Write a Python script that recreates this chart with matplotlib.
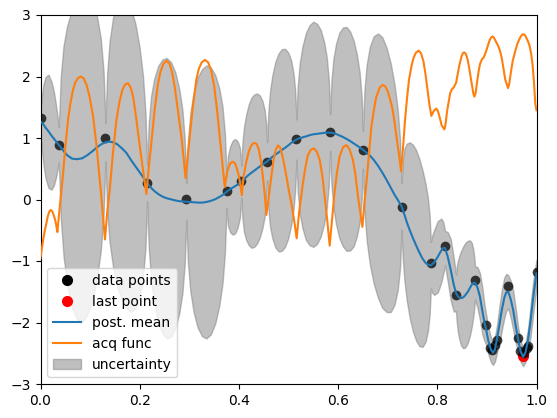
import matplotlib
matplotlib.use('Agg')
import matplotlib.pyplot as plt
import numpy as np

# observed samples
pts_x = [0.000, 0.037, 0.131, 0.215, 0.294, 0.375, 0.405, 0.457, 0.516, 0.584,
         0.650, 0.728, 0.787, 0.8155, 0.8377, 0.876, 0.898, 0.906, 0.910, 0.916,
         0.920, 0.943, 0.962, 0.967, 0.974, 0.980, 0.983, 1.000]
pts_y = [1.33, 0.886, 1.005, 0.273, 0.008, 0.138, 0.30, 0.615, 0.99, 1.10,
         0.805, -0.12, -1.04, -0.756, -1.553, -1.31, -2.04, -2.42, -2.45, -2.36,
         -2.285, -1.407, -2.25, -2.46, -2.50, -2.42, -2.38, -1.18]
last_x = [0.973]
last_y = [-2.545]

# posterior mean and half width of the uncertainty band
gp_x = [0.000, 0.003, 0.006, 0.010, 0.016, 0.022, 0.027, 0.031, 0.034, 0.037,
        0.0408, 0.0464, 0.0539, 0.0633, 0.0737, 0.084, 0.0943, 0.1047, 0.1141, 0.1216, 0.1272, 0.131,
        0.1344, 0.1394, 0.1461, 0.1545, 0.1638, 0.173, 0.1822, 0.1915, 0.1999, 0.2066, 0.2116, 0.215,
        0.2182, 0.2229, 0.2292, 0.2371, 0.2458, 0.2545, 0.2632, 0.2719, 0.2798, 0.2861, 0.2908, 0.294,
        0.2972, 0.3021, 0.3086, 0.3167, 0.3256, 0.3345, 0.3434, 0.3523, 0.3604, 0.3669, 0.3718, 0.375,
        0.378, 0.3825, 0.387, 0.390, 0.393, 0.3975, 0.402, 0.405,
        0.4071, 0.4102, 0.4144, 0.4196, 0.4253, 0.431, 0.4367, 0.4424, 0.4476, 0.4518, 0.4549, 0.457,
        0.4594, 0.4629, 0.4676, 0.4735, 0.480, 0.4865, 0.493, 0.4995, 0.5054, 0.5101, 0.5136, 0.516,
        0.5187, 0.5228, 0.5282, 0.535, 0.5425, 0.550, 0.5575, 0.565, 0.5718, 0.5772, 0.5813, 0.584,
        0.5866, 0.5906, 0.5959, 0.6025, 0.6097, 0.617, 0.6243, 0.6315, 0.6381, 0.6434, 0.6474, 0.650,
        0.6531, 0.6578, 0.664, 0.6718, 0.6804, 0.689, 0.6976, 0.7062, 0.714, 0.7202, 0.7249, 0.728,
        0.7304, 0.7339, 0.7386, 0.7445, 0.751, 0.7575, 0.764, 0.7705, 0.7764, 0.7811, 0.7846, 0.787,
        0.790, 0.794, 0.801, 0.808, 0.812, 0.8155, 0.821, 0.827, 0.833, 0.8377,
        0.8392, 0.8415, 0.8445, 0.848, 0.8525, 0.857, 0.8615, 0.866, 0.8695, 0.8725, 0.8745, 0.876,
        0.881, 0.886, 0.891, 0.895, 0.898, 0.903, 0.908, 0.912, 0.916, 0.920,
        0.925, 0.930, 0.935, 0.939, 0.943, 0.948, 0.953, 0.958, 0.963, 0.968,
        0.973, 0.978, 0.983, 0.988, 0.9935, 1.000]
gp_mean = [1.27, 1.245, 1.22, 1.17, 1.11, 1.04, 0.99, 0.95, 0.92, 0.89,
           0.85, 0.79, 0.72, 0.665, 0.655, 0.67, 0.72, 0.785, 0.85, 0.893, 0.918, 0.93,
           0.937, 0.94, 0.93, 0.90, 0.835, 0.76, 0.645, 0.54, 0.445, 0.37, 0.31, 0.27,
           0.235, 0.19, 0.14, 0.09, 0.048, 0.02, 0.002, -0.015, -0.027, -0.031, -0.034, -0.036,
           -0.038, -0.042, -0.047, -0.05, -0.051, -0.04, -0.022, 0.005, 0.04, 0.072, 0.10, 0.125,
           0.143, 0.168, 0.19, 0.205, 0.22, 0.245, 0.27, 0.29,
           0.305, 0.325, 0.36, 0.40, 0.435, 0.47, 0.505, 0.54, 0.57, 0.59, 0.607, 0.62,
           0.637, 0.66, 0.695, 0.73, 0.765, 0.805, 0.84, 0.88, 0.92, 0.945, 0.962, 0.975,
           0.985, 0.998, 1.01, 1.025, 1.046, 1.06, 1.068, 1.077, 1.083, 1.086, 1.087, 1.087,
           1.085, 1.078, 1.065, 1.042, 1.017, 0.985, 0.95, 0.912, 0.877, 0.847, 0.825, 0.81,
           0.79, 0.76, 0.715, 0.645, 0.55, 0.44, 0.32, 0.19, 0.075, -0.005, -0.07, -0.11,
           -0.17, -0.25, -0.37, -0.50, -0.63, -0.75, -0.865, -0.965, -1.03, -1.06, -1.068, -1.07,
           -1.05, -1.02, -0.93, -0.83, -0.785, -0.79, -0.93, -1.14, -1.38, -1.52,
           -1.545, -1.575, -1.595, -1.605, -1.59, -1.55, -1.50, -1.435, -1.385, -1.36, -1.355, -1.355,
           -1.43, -1.58, -1.82, -2.00, -2.10, -2.30, -2.44, -2.49, -2.44, -2.28,
           -2.05, -1.80, -1.60, -1.51, -1.50, -1.62, -1.80, -2.05, -2.28, -2.47,
           -2.56, -2.48, -2.28, -1.98, -1.58, -1.20]
gp_half = [0.19, 0.45, 0.65, 0.82, 0.92, 0.88, 0.76, 0.60, 0.45, 0.29,
           1.14, 1.71, 2.11, 2.42, 2.60, 2.66, 2.60, 2.425, 2.12, 1.72, 1.16, 0.31,
           1.11, 1.64, 2.02, 2.31, 2.47, 2.53, 2.47, 2.31, 2.02, 1.64, 1.10, 0.30,
           1.01, 1.49, 1.82, 2.08, 2.23, 2.28, 2.23, 2.08, 1.82, 1.49, 1.01, 0.30,
           0.99, 1.45, 1.78, 2.03, 2.17, 2.22, 2.17, 2.02, 1.77, 1.44, 0.97, 0.26,
           0.57, 0.70, 0.76, 0.77, 0.76, 0.70, 0.57, 0.26,
           0.61, 0.85, 1.01, 1.14, 1.22, 1.24, 1.22, 1.15, 1.03, 0.87, 0.64, 0.31,
           0.79, 1.11, 1.33, 1.51, 1.61, 1.64, 1.61, 1.51, 1.34, 1.11, 0.80, 0.325,
           0.87, 1.23, 1.48, 1.68, 1.79, 1.83, 1.79, 1.68, 1.48, 1.22, 0.85, 0.30,
           0.85, 1.21, 1.47, 1.67, 1.78, 1.82, 1.78, 1.67, 1.47, 1.22, 0.85, 0.31,
           0.99, 1.44, 1.77, 2.01, 2.15, 2.20, 2.15, 2.02, 1.78, 1.47, 1.04, 0.38,
           0.80, 1.08, 1.28, 1.43, 1.52, 1.55, 1.52, 1.43, 1.28, 1.08, 0.80, 0.38,
           0.47, 0.53, 0.58, 0.52, 0.42, 0.28, 0.40, 0.50, 0.44, 0.30,
           0.45, 0.58, 0.68, 0.77, 0.83, 0.85, 0.83, 0.77, 0.68, 0.55, 0.42, 0.27,
           0.33, 0.38, 0.38, 0.30, 0.25, 0.22, 0.20, 0.20, 0.20, 0.22,
           0.30, 0.33, 0.33, 0.30, 0.27, 0.30, 0.32, 0.28, 0.20, 0.17,
           0.15, 0.16, 0.18, 0.25, 0.27, 0.22]

# acquisition function
acq_x = [0.000, 0.003, 0.006, 0.009, 0.0118, 0.0145, 0.0175, 0.0205, 0.0235, 0.0265, 0.0295, 0.032, 0.034,
         0.039, 0.045, 0.050, 0.0555, 0.060, 0.0655, 0.070, 0.075, 0.081, 0.087, 0.093, 0.099, 0.106, 0.1125, 0.118, 0.1226, 0.126, 0.130,
         0.1345, 0.1395, 0.146, 0.153, 0.159, 0.165, 0.1705, 0.1764, 0.182, 0.187, 0.192, 0.197, 0.203, 0.208, 0.2135,
         0.218, 0.2234, 0.230, 0.237, 0.242, 0.248, 0.254, 0.260, 0.265, 0.2706, 0.277, 0.284, 0.288, 0.2925,
         0.2965, 0.3008, 0.307, 0.314, 0.319, 0.325, 0.3315, 0.338, 0.344, 0.350, 0.356, 0.361, 0.366, 0.3715,
         0.3755, 0.3794, 0.383, 0.3875, 0.392, 0.396, 0.400, 0.403, 0.4058,
         0.4095, 0.415, 0.420, 0.425, 0.430, 0.435, 0.440, 0.4445, 0.449, 0.4525, 0.4553,
         0.4595, 0.4653, 0.470, 0.4745, 0.479, 0.4835, 0.488, 0.4923, 0.497, 0.501, 0.5057, 0.511, 0.5165,
         0.5215, 0.529, 0.534, 0.539, 0.545, 0.551, 0.557, 0.563, 0.568, 0.573, 0.578, 0.583,
         0.588, 0.593, 0.598, 0.603, 0.610, 0.6166, 0.623, 0.630, 0.635, 0.640, 0.6445, 0.649,
         0.653, 0.657, 0.662, 0.667, 0.672, 0.677, 0.684, 0.690, 0.695, 0.700, 0.705, 0.709, 0.714, 0.718, 0.723, 0.727,
         0.731, 0.735, 0.739, 0.743, 0.748, 0.752, 0.757, 0.7625, 0.767, 0.772, 0.776, 0.780, 0.784, 0.788,
         0.793, 0.798, 0.801, 0.804, 0.809, 0.8145, 0.817, 0.820, 0.826, 0.830, 0.833, 0.838, 0.842, 0.845,
         0.849, 0.852, 0.855, 0.858, 0.861, 0.864, 0.867, 0.870, 0.8725, 0.8746, 0.877, 0.880, 0.883, 0.886,
         0.890, 0.8935, 0.897, 0.900, 0.903, 0.906, 0.909, 0.912, 0.915, 0.918, 0.922, 0.926, 0.930, 0.933,
         0.937, 0.9425, 0.945, 0.948, 0.952, 0.957, 0.961, 0.965, 0.969, 0.973, 0.977, 0.980, 0.983, 0.986,
         0.989, 0.992, 0.995, 0.9976, 1.000]
acq_y = [-0.95, -0.78, -0.62, -0.49, -0.39, -0.28, -0.20, -0.17, -0.19, -0.25, -0.33, -0.43, -0.53,
         -0.10, 0.37, 0.85, 1.29, 1.55, 1.78, 1.90, 1.97, 2.00, 1.97, 1.86, 1.67, 1.35, 0.91, 0.45, 0.05, -0.28, -0.65,
         -0.20, 0.15, 0.75, 1.29, 1.58, 1.78, 1.87, 1.89, 1.82, 1.66, 1.38, 1.06, 0.70, 0.40, 0.09,
         0.50, 0.91, 1.45, 1.89, 2.08, 2.21, 2.255, 2.21, 2.08, 1.83, 1.45, 1.02, 0.72, 0.345,
         0.68, 1.02, 1.50, 1.94, 2.12, 2.23, 2.27, 2.23, 2.10, 1.85, 1.45, 1.05, 0.65, 0.20,
         0.42, 0.53, 0.59, 0.615, 0.59, 0.50, 0.38, 0.24, 0.07,
         0.38, 0.615, 0.78, 0.88, 0.92, 0.91, 0.82, 0.62, 0.33, 0.05, -0.25,
         0.00, 0.37, 0.65, 0.81, 0.88, 0.84, 0.70, 0.53, 0.32, 0.13, -0.06, -0.32, -0.63,
         -0.20, 0.26, 0.52, 0.72, 0.81, 0.83, 0.78, 0.64, 0.40, 0.05, -0.33, -0.75,
         -0.30, 0.13, 0.45, 0.70, 0.85, 0.886, 0.82, 0.64, 0.40, 0.05, -0.20, -0.445,
         -0.05, 0.26, 0.72, 1.18, 1.45, 1.67, 1.82, 1.862, 1.84, 1.76, 1.62, 1.50, 1.25, 1.00, 0.72, 0.46,
         0.85, 1.30, 1.65, 1.95, 2.17, 2.30, 2.39, 2.42, 2.38, 2.25, 2.05, 1.80, 1.55, 1.36,
         1.44, 1.48, 1.44, 1.36, 1.20, 1.14, 1.25, 1.45, 1.73, 1.80, 1.82, 1.90, 2.08, 2.20,
         2.33, 2.385, 2.39, 2.36, 2.28, 2.15, 2.00, 1.85, 1.73, 1.672, 1.72, 1.90, 2.07, 2.20,
         2.28, 2.31, 2.38, 2.45, 2.53, 2.60, 2.64, 2.65, 2.62, 2.57, 2.51, 2.43, 2.30, 2.15,
         1.95, 1.81, 1.88, 2.05, 2.25, 2.41, 2.52, 2.60, 2.66, 2.69, 2.67, 2.62, 2.57, 2.50,
         2.38, 2.20, 1.90, 1.553, 1.45]

gx = np.array(gp_x)
gm = np.array(gp_mean)
gs = np.array(gp_half)

fig = plt.figure(figsize=(5.57, 4.18), dpi=100)
ax = fig.add_axes([40.5/557, 34/418, 496/557, 369/418])

ax.fill_between(gx, gm - gs, gm + gs, color='gray', alpha=0.5, zorder=1)
ax.plot(last_x, last_y, 'o', color='red', markersize=7, zorder=2)
ax.plot(pts_x, pts_y, 'o', color='black', alpha=0.75, markersize=7,
        markeredgewidth=0, zorder=2.5)
ax.plot(gx, gm, color='C0', lw=1.5, zorder=3)
ax.plot(acq_x, acq_y, color='C1', lw=1.5, zorder=3)

# legend proxies
h1, = ax.plot([], [], 'o', color='black', markersize=7, label='data points')
h2, = ax.plot([], [], 'o', color='red', markersize=7, label='last point')
h3, = ax.plot([], [], color='C0', label='post. mean')
h4, = ax.plot([], [], color='C1', label='acq func')
h5 = ax.fill_between([], [], [], color='gray', alpha=0.5, label='uncertainty')
ax.legend(handles=[h1, h2, h3, h4, h5], loc='lower left')

ax.set_xlim(0, 1)
ax.set_ylim(-3, 3)

plt.savefig('out.png', dpi=100)
plt.close()
